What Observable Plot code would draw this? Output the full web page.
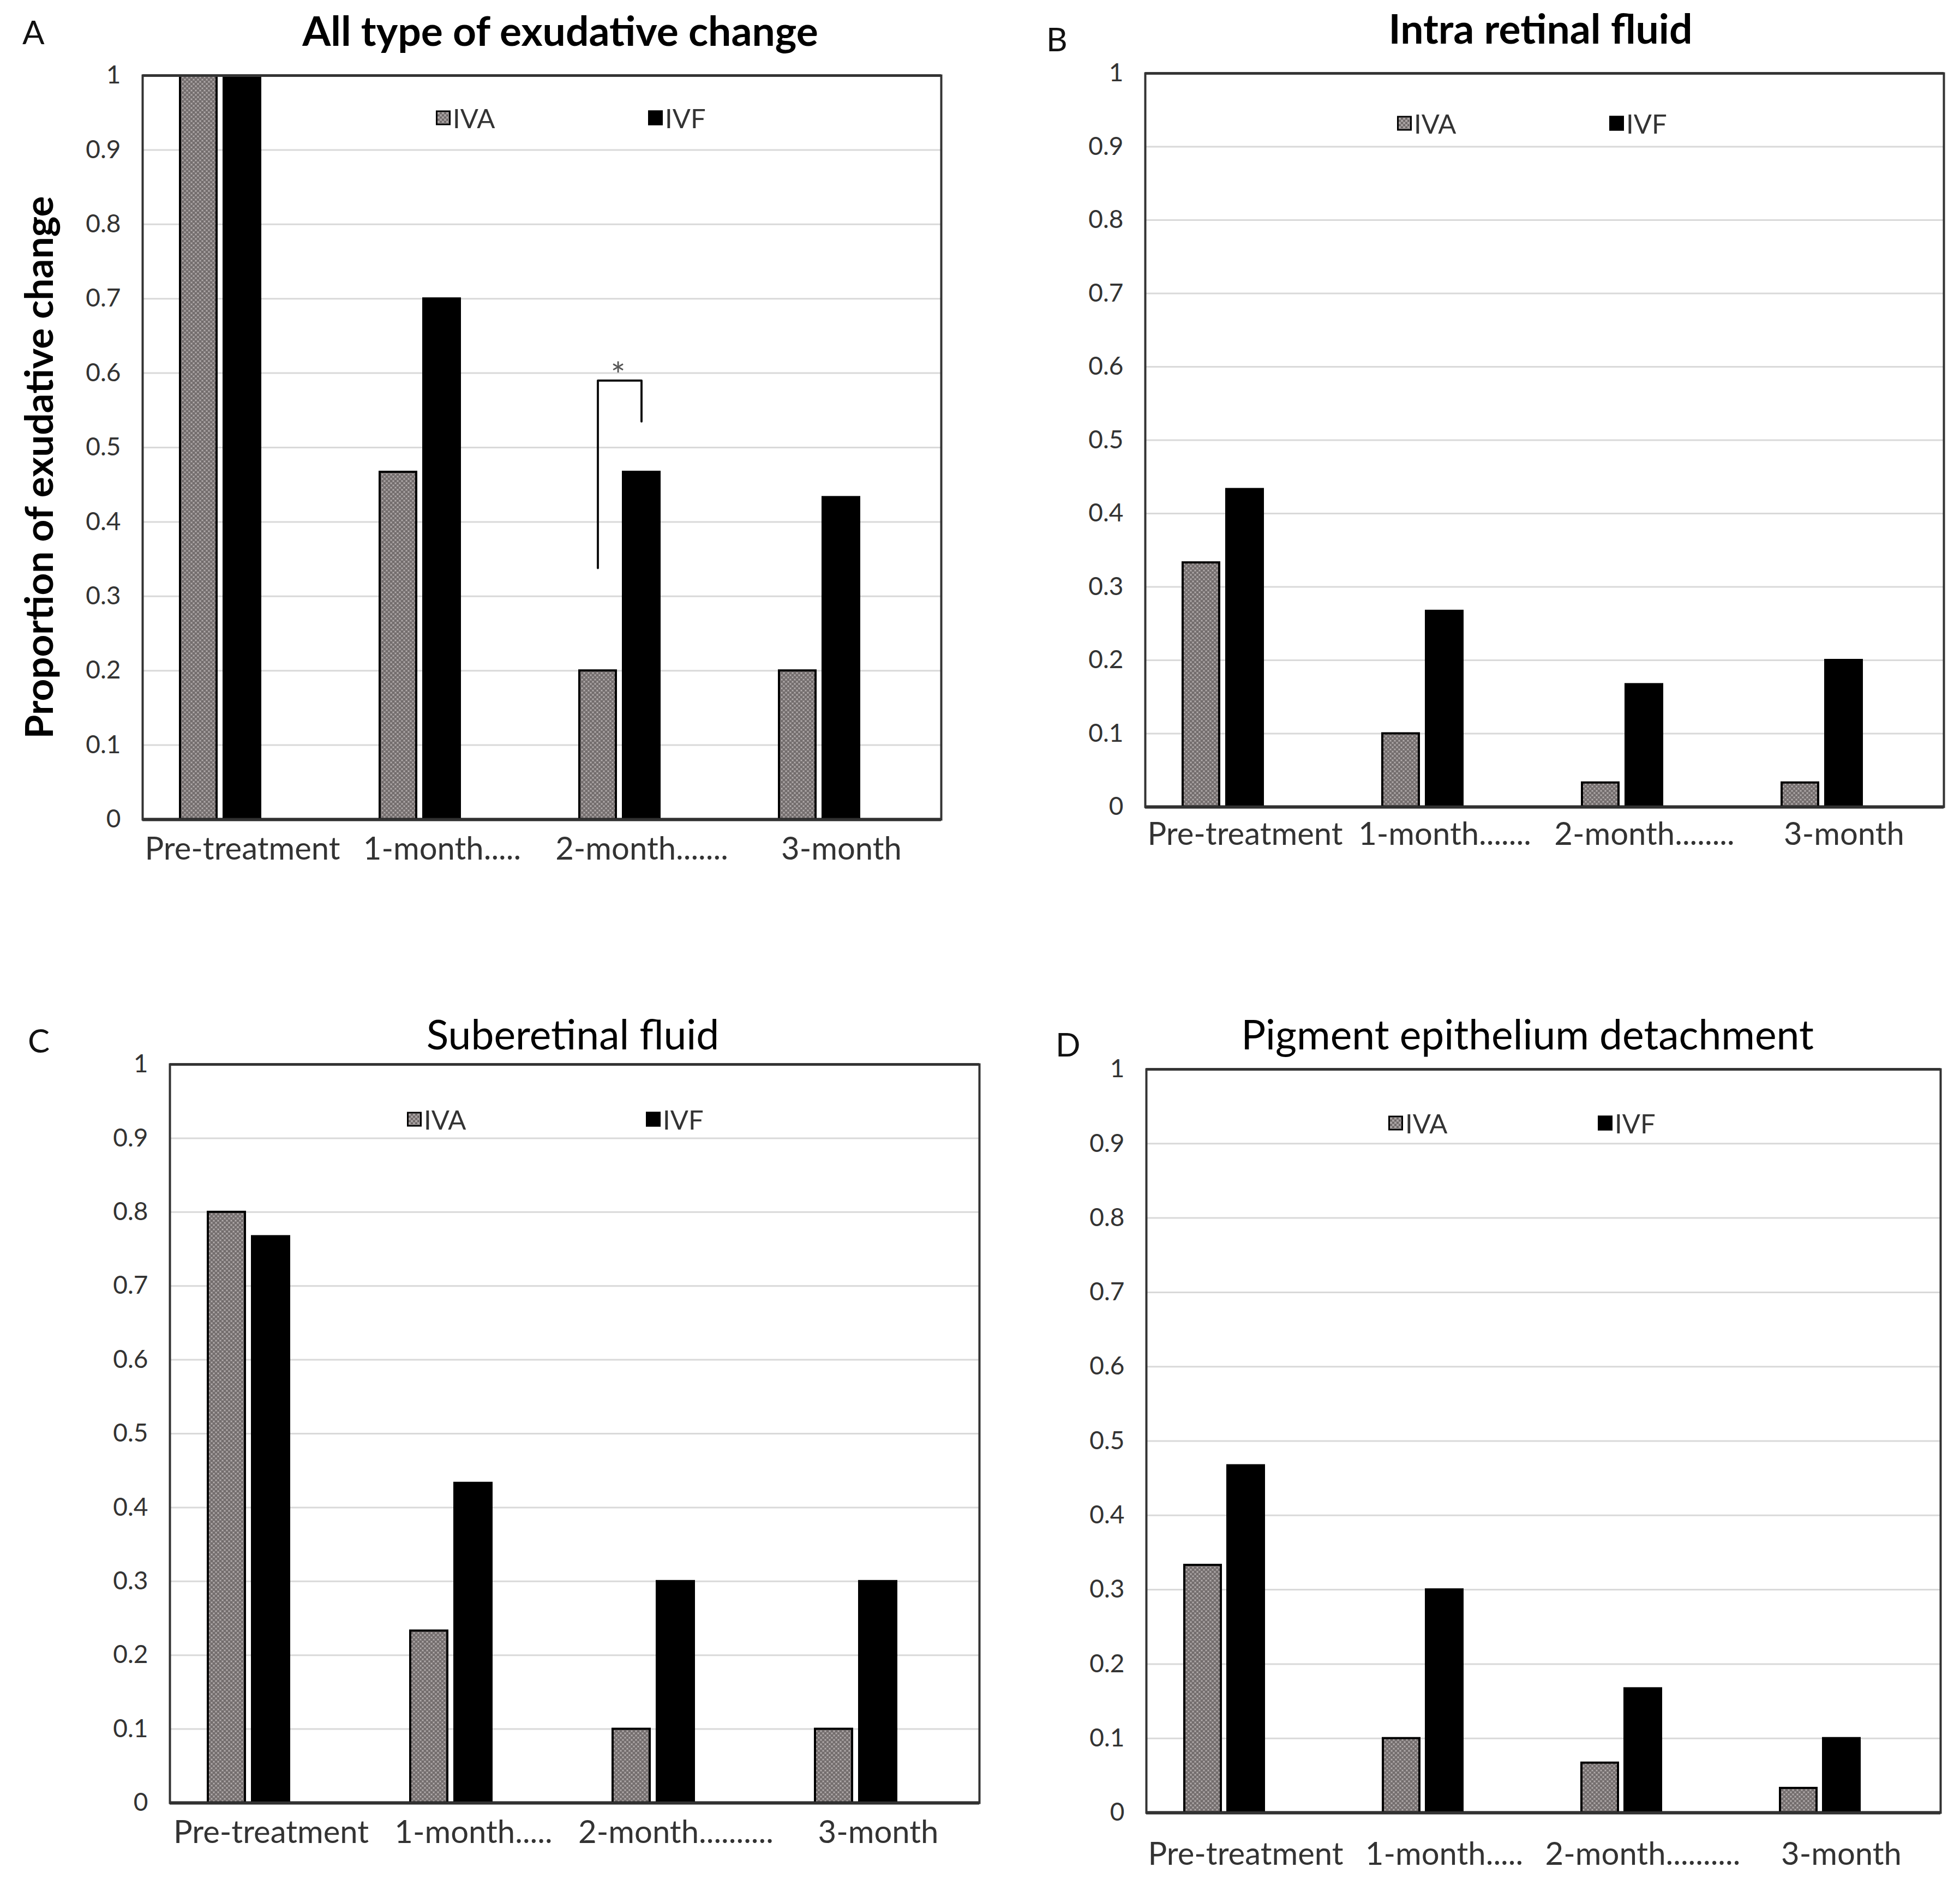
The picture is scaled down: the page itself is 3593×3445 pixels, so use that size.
<!DOCTYPE html>
<html>
<head>
<meta charset="utf-8">
<script src="https://cdn.jsdelivr.net/npm/d3@7"></script>
<script src="https://cdn.jsdelivr.net/npm/@observablehq/plot@0.6"></script>
<style>
  html, body { margin: 0; padding: 0; background: #fff; }
  body { width: 3593px; height: 3445px; position: relative; overflow: hidden; font-family: Lato, "Open Sans", sans-serif; color: #000; }
  .abs { position: absolute; white-space: nowrap; line-height: 1; }
  .center { transform: translate(-50%, -50%); }
  .letter { font-size: 60px; color: #111; transform: translateY(-50%); }
  .title { font-size: 75px; }
  .bold { font-weight: 700; }
  .ytitle { font-size: 71px; font-weight: 700; transform: translate(-50%, -50%) rotate(-90deg); }
  .sw { position: absolute; width: 21px; height: 21px; border: 3px solid #000; transform: translateY(-50%); }
  .sw.iva { background: repeating-conic-gradient(#6f6969 0% 25%, #aaa4a4 0% 50%) 0 0 / 8px 8px; }
  .sw.ivf { background: #000; }
  .lg { font-size: 49px; color: #333; transform: translateY(-50%); }
  .plot { position: absolute; }
</style>
</head>
<body>
<script>
// ---------- data ----------
const times = ["Pre-treatment", "1-month", "2-month", "3-month"];
const seriesNames = ["IVA", "IVF"];
const yTicks = [0, 0.1, 0.2, 0.3, 0.4, 0.5, 0.6, 0.7, 0.8, 0.9, 1];

const titleA = "All type of exudative change";
const labelsA = ["Pre-treatment", "1-month.....", "2-month.......", "3-month"];
const ivaA = [1.0, 0.467, 0.2, 0.2];
const ivfA = [1.0, 0.7, 0.467, 0.433];

const titleB = "Intra retinal fluid";
const labelsB = ["Pre-treatment", "1-month.......", "2-month........", "3-month"];
const ivaB = [0.333, 0.1, 0.033, 0.033];
const ivfB = [0.433, 0.267, 0.167, 0.2];

const titleC = "Suberetinal fluid";
const labelsC = ["Pre-treatment", "1-month.....", "2-month..........", "3-month"];
const ivaC = [0.8, 0.233, 0.1, 0.1];
const ivfC = [0.767, 0.433, 0.3, 0.3];

const titleD = "Pigment epithelium detachment";
const labelsD = ["Pre-treatment", "1-month.....", "2-month..........", "3-month"];
const ivaD = [0.333, 0.1, 0.067, 0.033];
const ivfD = [0.467, 0.3, 0.167, 0.1];

const yTitleA = "Proportion of exudative change";
// significance bracket in panel A (2-month): left foot, top, right foot
const bracketTime = "2-month";
const bracketY = [0.338, 0.59, 0.59, 0.535];
const bracketSeries = ["IVA", "IVA", "IVF", "IVF"];
const starY = 0.6;

// ---------- helpers ----------
function addText(cls, text, left, top) {
  const d = document.createElement("div");
  d.className = "abs " + cls;
  d.textContent = text;
  d.style.left = left + "px";
  d.style.top = top + "px";
  document.body.appendChild(d);
  return d;
}
function addLegend(x1, x2, y) {
  [["iva", x1, "IVA"], ["ivf", x2, "IVF"]].forEach(([c, x, t]) => {
    const s = document.createElement("div");
    s.className = "sw " + c;
    s.style.left = x + "px"; s.style.top = y + "px";
    document.body.appendChild(s);
    addText("lg", t, x + 31, y);
  });
}
const NS = "http://www.w3.org/2000/svg";
function addPattern(svg, id) {
  const defs = document.createElementNS(NS, "defs");
  const p = document.createElementNS(NS, "pattern");
  p.setAttribute("id", id);
  p.setAttribute("width", "8"); p.setAttribute("height", "8");
  p.setAttribute("patternUnits", "userSpaceOnUse");
  const rects = [[0, 0, 8, 8, "#8e8888"], [0, 0, 4, 4, "#736d6d"], [4, 4, 4, 4, "#736d6d"], [1, 5, 2, 2, "#b3adad"], [5, 1, 2, 2, "#b3adad"]];
  rects.forEach(([x, y, w, h, f]) => {
    const r = document.createElementNS(NS, "rect");
    r.setAttribute("x", x); r.setAttribute("y", y);
    r.setAttribute("width", w); r.setAttribute("height", h);
    r.setAttribute("fill", f);
    p.appendChild(r);
  });
  defs.appendChild(p);
  svg.insertBefore(defs, svg.firstChild);
}

function panel(cfg) {
  const data = [];
  times.forEach((t, i) => {
    data.push({time: t, series: "IVA", value: cfg.iva[i]});
    data.push({time: t, series: "IVF", value: cfg.ivf[i]});
  });
  const labelOf = new Map(times.map((t, i) => [t, cfg.labels[i]]));
  const patId = "pat" + cfg.id;
  const marks = [
    Plot.gridY(yTicks.filter(d => d > 0 && d < 1), {stroke: "#d9d9d9", strokeOpacity: 1, strokeWidth: 3}),
    Plot.barY(data, {fx: "time", x: "series", y: "value", fill: "series", stroke: "#000", strokeWidth: 4}),
    ...(cfg.extra || []),
    Plot.ruleY([1], {stroke: "#444", strokeWidth: 5}),
    Plot.ruleY([0], {stroke: "#222", strokeWidth: 6}),
    Plot.frame({facet: "super", stroke: "#333", strokeWidth: 4}),
    Plot.axisY(yTicks, {tickSize: 0, tickPadding: 40, fontSize: 46, fill: "#333",
      tickFormat: d => (d === 0 ? "0" : d === 1 ? "1" : d.toFixed(1)), label: null}),
    Plot.axisFx({anchor: "bottom", tickSize: 0, tickPadding: cfg.xPad, fontSize: 58, fill: "#333",
      tickFormat: t => labelOf.get(t), label: null})
  ];
  const svg = Plot.plot({
    width: cfg.width, height: cfg.height,
    marginLeft: cfg.ml, marginRight: cfg.mr, marginTop: cfg.mt, marginBottom: cfg.mb,
    style: {fontFamily: "Lato, 'Open Sans', sans-serif", background: "white", overflow: "visible"},
    fx: {domain: times, padding: 0, label: null},
    x: {domain: ["IVA", "IVF", "blank"], paddingInner: 0.157, paddingOuter: 0.857, axis: null},
    y: {domain: [0, 1], label: null},
    color: {type: "ordinal", domain: seriesNames, range: [`url(#${patId})`, "#000"]},
    marks
  });
  addPattern(svg, patId);
  const wrap = document.createElement("div");
  wrap.className = "plot";
  wrap.style.left = cfg.left + "px";
  wrap.style.top = cfg.top + "px";
  wrap.appendChild(svg);
  document.body.appendChild(wrap);
}

// bracket marks for panel A
const bracketData = bracketY.map((y, i) => ({time: bracketTime, series: bracketSeries[i], y}));
const extraA = [
  Plot.line(bracketData, {fx: "time", x: "series", y: "y", stroke: "#111", strokeWidth: 4, curve: "linear", dx: 0}),
  Plot.text([{time: bracketTime, series: "IVF", y: starY}], {fx: "time", x: "series", y: "y", text: () => "*", dx: -43, dy: 6, fontSize: 64, fill: "#555"})
];

// ---------- panels ----------
panel({id: "A", iva: ivaA, ivf: ivfA, labels: labelsA, left: 0, top: 100, width: 1800, height: 1522, ml: 260, mr: 75, mt: 38, mb: 120, xPad: 32, extra: extraA});
panel({id: "B", iva: ivaB, ivf: ivfB, labels: labelsB, left: 1840, top: 100, width: 1753, height: 1499, ml: 258, mr: 30, mt: 34, mb: 120, xPad: 28});
panel({id: "C", iva: ivaC, ivf: ivfC, labels: labelsC, left: 0, top: 1900, width: 1830, height: 1525, ml: 309, mr: 34, mt: 51, mb: 120, xPad: 32});
panel({id: "D", iva: ivaD, ivf: ivfD, labels: labelsD, left: 1840, top: 1900, width: 1753, height: 1543, ml: 260, mr: 35, mt: 60, mb: 120, xPad: 54});

// ---------- titles, letters, legends ----------
addText("letter", "A", 41, 58);
addText("letter", "B", 1918, 71);
addText("letter", "C", 51, 1907);
addText("letter", "D", 1935, 1914);

addText("title bold center", titleA, 1027, 55);
addText("title bold center", titleB, 2824, 51);
addText("title center", titleC, 1050, 1895);
addText("title center", titleD, 2800, 1895);

addText("ytitle", yTitleA, 69, 857);

addLegend(799, 1188, 216);
addLegend(2561, 2950, 226);
addLegend(746, 1184, 2052);
addLegend(2545, 2929, 2059);
</script>
</body>
</html>
